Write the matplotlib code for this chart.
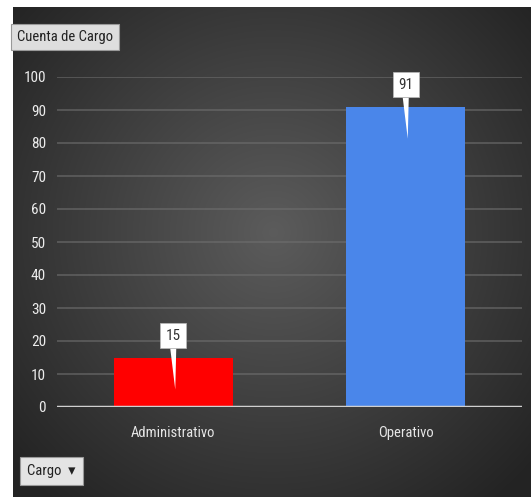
import numpy as np
import matplotlib.pyplot as plt
from matplotlib import font_manager as fm
from matplotlib.patches import Polygon

# ---------------------- Data -------------------

categories = ["Administrativo", "Operativo"]
counts = [15, 91]
bar_colors = ["#ff0000", "#4a86ea"]
y_ticks = list(range(0, 101, 10))


def pick_font():
    # narrow sans first, condensed DejaVu as the fallback
    for name in ["Liberation Sans Narrow", "Arial Narrow", "Roboto Condensed", "PT Sans Narrow", "Archivo Narrow"]:
        try:
            fm.findfont(fm.FontProperties(family=name), fallback_to_default=False)
            return name, "normal"
        except ValueError:
            pass
    return "DejaVu Sans", "condensed"


FAMILY, STRETCH = pick_font()
plt.rcParams["font.family"] = [FAMILY, "DejaVu Sans"]
plt.rcParams["font.stretch"] = STRETCH
FS = 10.5

W, H = 531, 497
fig = plt.figure(figsize=(W / 100, H / 100), dpi=100)
fig.patch.set_facecolor("white")

# dark panel with a soft radial gradient
bg = fig.add_axes([13 / W, 0, 1 - 13 / W, 1 - 7 / H])
yy, xx = np.mgrid[0:490, 0:518]
r = np.sqrt(((xx - 260) / 330.0) ** 2 + ((yy - 225) / 330.0) ** 2)
shade = np.clip(0.36 - 0.21 * r, 0.14, 0.36)
bg.imshow(np.dstack([shade] * 3), aspect="auto", interpolation="bilinear")
bg.axis("off")

# chart area
left, right = 57 / W, 522 / W
bottom, top = (H - 407) / H, (H - 77) / H
ax = fig.add_axes([left, bottom, right - left, top - bottom])
ax.patch.set_alpha(0)
ax.set_xlim(-0.5, 1.5)
ax.set_ylim(0, 100)

ax.set_yticks(y_ticks)
ax.yaxis.grid(True, color="#6e6e6e", lw=1.1, alpha=0.75)
ax.set_axisbelow(True)
for s in ax.spines.values():
    s.set_visible(False)
ax.tick_params(length=0, colors="#ececec", labelsize=11)
ax.tick_params(axis="y", pad=8)
ax.tick_params(axis="x", pad=14)

x = np.arange(len(categories))
ax.bar(x, counts, width=0.51, color=bar_colors, zorder=2)
ax.axhline(0, color="#d0d0d0", lw=2.5, zorder=3)
ax.set_xticks(x)
ax.set_xticklabels(categories, color="#e6e6e6", fontsize=FS)

# value callouts: white box with a thin pointer into the bar
fig.canvas.draw()
to_data = ax.transData.inverted()
for xi, val in zip(x, counts):
    px, py = ax.transData.transform((xi, val))
    pts = [(px - 3, py + 9), (px + 3, py + 9), (px + 2, py - 32)]
    poly = Polygon(to_data.transform(pts), closed=True, fc="white", ec="none", zorder=4)
    ax.add_patch(poly)
    cx, cy = to_data.transform((px, py + 22))
    ax.text(cx, cy, str(val), ha="center", va="center", fontsize=11, color="#333333", zorder=5,
            bbox=dict(boxstyle="square,pad=0.35", fc="white", ec="#bbbbbb", lw=0.5))

# header and filter buttons
fig.text(17 / W, 1 - 37 / H, "Cuenta de Cargo", ha="left", va="center", fontsize=FS, color="#222222",
         bbox=dict(boxstyle="square,pad=0.4", fc="#dedede", ec="#999999", lw=0.8))
fig.text(27 / W, 1 - 471 / H, "Cargo  \u25be", ha="left", va="center", fontsize=FS, color="#222222",
         bbox=dict(boxstyle="square,pad=0.5", fc="#e4e4e4", ec="#999999", lw=0.8))

fig.savefig("out.png", dpi=100, facecolor="white")
